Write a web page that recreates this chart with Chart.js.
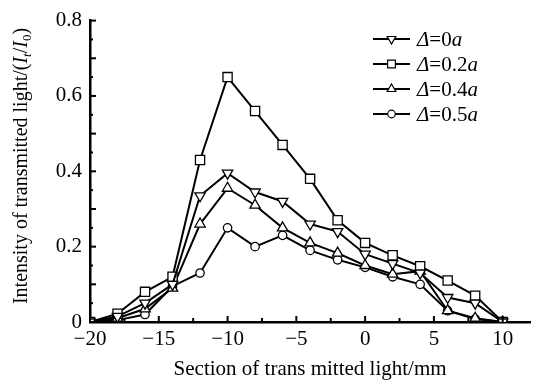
<!DOCTYPE html>
<html><head><meta charset="utf-8">
<script src="https://cdn.jsdelivr.net/npm/chart.js@4"></script>
<style>html,body{margin:0;padding:0;background:#fff}#wrap{width:538px;height:385px}</style>
</head><body><div id="wrap"><canvas id="c" width="538" height="385"></canvas></div>
<script>
const xPositions = [-20,-18,-16,-14,-12,-10,-8,-6,-4,-2,0,2,4,6,8,10];
const seriesLabels = ['0', '0.2', '0.4', '0.5'];
const delta00 = [0,0.015,0.05,0.10,0.335,0.395,0.345,0.32,0.26,0.24,0.18,0.155,0.13,0.065,0.05,0];
const delta02 = [0,0.022,0.08,0.12,0.43,0.65,0.56,0.47,0.38,0.27,0.21,0.177,0.148,0.11,0.07,0];
const delta04 = [0,0.01,0.035,0.09,0.26,0.355,0.31,0.25,0.21,0.183,0.15,0.127,0.135,0.03,0.01,0];
const delta05 = [0,0.005,0.02,0.095,0.13,0.25,0.20,0.23,0.19,0.165,0.145,0.12,0.10,0.03,0.008,0];
const xTickLabels = ['\u221220','\u221215','\u221210','\u22125','0','5','10'];
const yTickLabels = ['0','0.2','0.4','0.6','0.8'];

const FONT = '"Liberation Serif", "DejaVu Serif", serif';
const styles = [
  {ps:'triangle', rot:180, r:6},
  {ps:'rect', rot:0, r:6.5},
  {ps:'triangle', rot:0, r:6},
  {ps:'circle', rot:0, r:4.2}
];
const allData = [delta00, delta02, delta04, delta05];
const datasets = allData.map((arr,i)=>({
  label: seriesLabels[i],
  data: xPositions.map((x,j)=>({x:x, y:arr[j]})),
  borderColor:'#000', borderWidth:2,
  pointStyle: styles[i].ps, rotation: styles[i].rot,
  pointRadius:styles[i].r, pointBorderWidth:1.3,
  pointBackgroundColor:'#fff', pointBorderColor:'#000',
  tension:0, fill:false
}));

function segs(ctx, parts, x, y){
  let cx = x;
  for (const p of parts){
    ctx.font = p.f;
    ctx.fillText(p.t, cx, y + (p.dy||0));
    cx += ctx.measureText(p.t).width;
  }
  return cx - x;
}
function segWidth(ctx, parts){
  let w=0; for(const p of parts){ctx.font=p.f; w+=ctx.measureText(p.t).width;} return w;
}
function isMult(v, s){ return Math.abs(v/s - Math.round(v/s)) < 1e-6; }

const custom = {
  id:'custom',
  afterDraw(chart){
    const ctx = chart.ctx;
    const xs = chart.scales.x, ys = chart.scales.y;
    ctx.save();
    ctx.strokeStyle='#000'; ctx.lineWidth=2;
    // inward ticks
    xs.ticks.forEach(t=>{
      if (!isMult(t.value, 2.5)) return;
      const len = isMult(t.value,5) ? 6 : 4;
      const px = xs.getPixelForValue(t.value);
      ctx.beginPath(); ctx.moveTo(px, ys.bottom); ctx.lineTo(px, ys.bottom-len); ctx.stroke();
    });
    ys.ticks.forEach(t=>{
      const len = isMult(t.value,0.1) ? 6 : 3;
      const py = ys.getPixelForValue(t.value);
      ctx.beginPath(); ctx.moveTo(xs.left, py); ctx.lineTo(xs.left+len, py); ctx.stroke();
    });
    // y title
    ctx.fillStyle='#000';
    ctx.textBaseline='alphabetic';
    ctx.translate(27, 166);
    ctx.rotate(-Math.PI/2);
    const N = '20px '+FONT, I = 'italic 20px '+FONT, S='13px '+FONT, SI='italic 13px '+FONT;
    const parts = [{t:'Intensity of transmitted light/(',f:N},{t:'I',f:I},{t:'t',f:SI,dy:4},{t:'/',f:N},{t:'I',f:I},{t:'0',f:S,dy:4},{t:')',f:N}];
    const w = segWidth(ctx, parts);
    segs(ctx, parts, -w/2, 0);
    ctx.setTransform(1,0,0,1,0,0);
    // legend
    const LN = '21px '+FONT, LI = 'italic 21px '+FONT;
    const lx0=373, lx1=410, tx=417, y0=39, dy=25;
    chart.data.datasets.forEach((ds,i)=>{
      const y = y0 + i*dy;
      ctx.strokeStyle='#000'; ctx.lineWidth=2;
      ctx.beginPath(); ctx.moveTo(lx0,y); ctx.lineTo(lx1,y); ctx.stroke();
      ctx.lineWidth=1.2;
      ctx.fillStyle='#fff';
      Chart.helpers.drawPoint(ctx, {pointStyle:ds.pointStyle, rotation:ds.rotation, radius: ds.pointStyle==='rect'?5.5:(ds.pointStyle==='circle'?3.8:5), borderWidth:1.2}, (lx0+lx1)/2, y);
      ctx.fillStyle='#000'; ctx.textBaseline='middle';
      segs(ctx, [{t:'\u0394',f:LI},{t:'='+ds.label,f:LN},{t:'a',f:LI}], tx, y+1);
    });
    ctx.restore();
  }
};

new Chart(document.getElementById('c'), {
  type:'line',
  data:{datasets},
  options:{
    responsive:false, animation:false, devicePixelRatio:1,
    layout:{padding:{top:15,left:0,right:0,bottom:0}},
    plugins:{legend:{display:false}, tooltip:{enabled:false}},
    scales:{
      x:{type:'linear', min:-20, max:12,
        border:{color:'#000', width:2.5},
        grid:{display:true, drawOnChartArea:false, drawTicks:false},
        ticks:{stepSize:2.5, includeBounds:false, autoSkip:false, maxRotation:0, padding:5, color:'#000', font:{family:FONT, size:21},
          callback:(v)=>{ if (!isMult(v,5)) return ''; const idx=Math.round((v+20)/5); return xTickLabels[idx]!==undefined?xTickLabels[idx]:''; }},
        title:{display:true, text:'Section of trans mitted light/mm', color:'#000', font:{family:FONT, size:21}, padding:{top:0,bottom:3}},
        afterFit:(s)=>{s.height=63;}
      },
      y:{type:'linear', min:0, max:0.8,
        border:{color:'#000', width:2.5},
        grid:{display:true, drawOnChartArea:false, drawTicks:false},
        ticks:{stepSize:0.05, autoSkip:false, padding:8, color:'#000', font:{family:FONT, size:21},
          callback:(v)=>{ if (!isMult(v,0.2)) return ''; const k=Math.round(v/0.2); return yTickLabels[k]; }},
        afterFit:(s)=>{s.width=90;}
      }
    }
  },
  plugins:[custom]
});
</script></body></html>
